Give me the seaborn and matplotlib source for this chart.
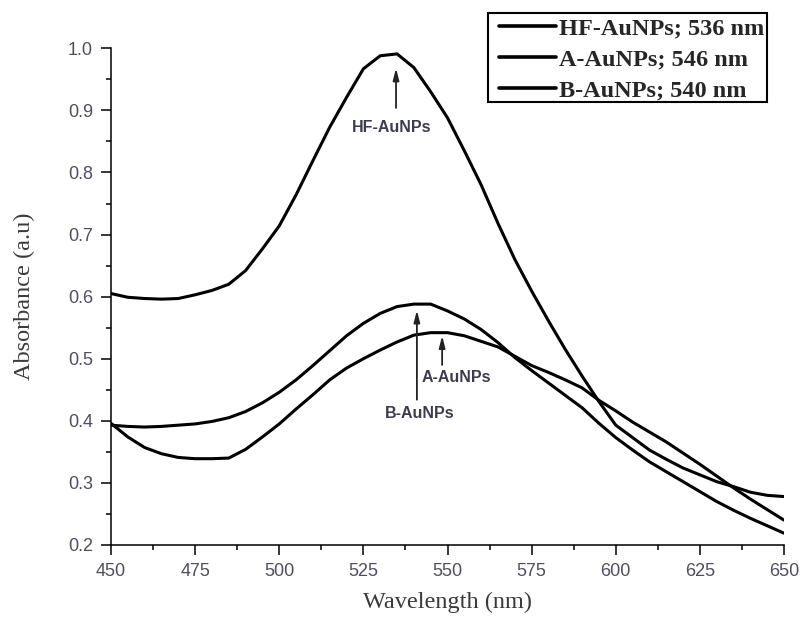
import numpy as np
import pandas as pd
import matplotlib
matplotlib.use("Agg")
import matplotlib.pyplot as plt
import seaborn as sns
from matplotlib.ticker import MultipleLocator
from matplotlib.patches import Rectangle

# ---------------- data ----------------
wavelength = [450, 455, 460, 465, 470, 475, 480, 485, 490, 495,
              500, 505, 510, 515, 520, 525, 530, 535, 540, 545,
              550, 555, 560, 565, 570, 575, 580, 585, 590, 595,
              600, 605, 610, 615, 620, 625, 630, 635, 640, 645, 650]

hf_aunps = [0.605, 0.599, 0.597, 0.596, 0.597, 0.603, 0.610, 0.620, 0.642, 0.677,
            0.714, 0.764, 0.819, 0.873, 0.921, 0.967, 0.988, 0.991, 0.969, 0.930,
            0.888, 0.835, 0.780, 0.718, 0.660, 0.609, 0.561, 0.515, 0.472, 0.431,
            0.393, 0.373, 0.353, 0.338, 0.324, 0.313, 0.302, 0.294, 0.285, 0.280, 0.278]

a_aunps = [0.396, 0.374, 0.357, 0.347, 0.341, 0.339, 0.339, 0.340, 0.354, 0.374,
           0.395, 0.419, 0.442, 0.466, 0.485, 0.500, 0.514, 0.527, 0.538, 0.542,
           0.542, 0.537, 0.528, 0.519, 0.504, 0.489, 0.478, 0.466, 0.453, 0.433,
           0.416, 0.398, 0.382, 0.366, 0.348, 0.330, 0.311, 0.292, 0.274, 0.257, 0.240]

b_aunps = [0.393, 0.391, 0.390, 0.391, 0.393, 0.395, 0.399, 0.405, 0.415, 0.429,
           0.446, 0.466, 0.489, 0.513, 0.537, 0.557, 0.573, 0.584, 0.588, 0.588,
           0.577, 0.564, 0.547, 0.526, 0.502, 0.481, 0.461, 0.441, 0.421, 0.396,
           0.373, 0.353, 0.334, 0.318, 0.302, 0.286, 0.270, 0.256, 0.243, 0.231, 0.219]

series_names = ["HF-AuNPs", "A-AuNPs", "B-AuNPs"]
legend_labels = ["HF-AuNPs; 536 nm", "A-AuNPs; 546 nm", "B-AuNPs; 540 nm"]

x_ticks = [450, 475, 500, 525, 550, 575, 600, 625, 650]
y_ticks = [0.2, 0.3, 0.4, 0.5, 0.6, 0.7, 0.8, 0.9, 1.0]

# annotation: label, arrow tip (x, y), arrow tail (x, y), text centre (x, y)
ann_labels = ["HF-AuNPs", "B-AuNPs", "A-AuNPs"]
ann_tips = [(534.7, 0.968), (540.9, 0.578), (548.4, 0.537)]
ann_tails = [(534.7, 0.904), (540.9, 0.434), (548.4, 0.490)]
ann_text = [(533.5, 0.872), (541.8, 0.412), (552.6, 0.469)]

# ---------------- build table ----------------
df = pd.DataFrame({
    "Wavelength": wavelength * 3,
    "Absorbance": hf_aunps + a_aunps + b_aunps,
    "Sample": [series_names[0]] * len(wavelength)
              + [series_names[1]] * len(wavelength)
              + [series_names[2]] * len(wavelength),
})

sns.set_style("ticks")
fig = plt.figure(figsize=(8.02, 6.17), dpi=100)
ax = fig.add_axes([0.1384, 0.1167, 0.8392, 0.805])

sns.lineplot(data=df, x="Wavelength", y="Absorbance", hue="Sample",
             hue_order=series_names, palette=["black"] * 3,
             estimator=None, linewidth=2.2, legend=False, ax=ax)
for ln in ax.lines:
    ln.set_solid_joinstyle("round")

ax.set_xlim(450, 650)
ax.set_ylim(0.2, 1.0)
ax.set_xticks(x_ticks)
ax.set_xticklabels([str(v) for v in x_ticks])
ax.set_yticks(y_ticks)
ax.set_yticklabels([f"{v:.1f}" for v in y_ticks])
ax.xaxis.set_minor_locator(MultipleLocator(12.5))
ax.yaxis.set_minor_locator(MultipleLocator(0.05))
ax.tick_params(which="major", direction="out", length=7, width=1.1,
               color="black", labelsize=13, labelcolor="#4f4f5f", pad=6)
ax.tick_params(which="minor", direction="out", length=3.6, width=1.1, color="black")
for lab in ax.get_xticklabels() + ax.get_yticklabels():
    lab.set_fontfamily("Liberation Sans")

for s in ["top", "right"]:
    ax.spines[s].set_visible(False)
for s in ["left", "bottom"]:
    ax.spines[s].set_linewidth(1.1)
    ax.spines[s].set_color("black")

ax.set_xlabel("Wavelength (nm)", fontfamily="Liberation Serif", fontsize=17.5, color="#3a3a3a")
ax.xaxis.set_label_coords(0.5, -0.094)
ax.set_ylabel("Absorbance (a.u)", fontfamily="Liberation Serif", fontsize=17.5, color="#3a3a3a")
ax.yaxis.set_label_coords(-0.113, 0.5)

for lab, tip, tail, tpos in zip(ann_labels, ann_tips, ann_tails, ann_text):
    ax.annotate("", xy=tip, xytext=tail,
                arrowprops=dict(arrowstyle="-|>,head_length=0.7,head_width=0.18",
                                color="#222222", lw=1.3, shrinkA=0, shrinkB=0,
                                mutation_scale=10))
    ax.text(tpos[0], tpos[1], lab, ha="center", va="center", fontsize=11.5,
            fontfamily="Liberation Sans", color="#3c3c4c", fontweight="bold")

# legend frame drawn separately (as in the reference, padded asymmetrically)
frame = Rectangle((488 / 802, 1 - 102 / 617), (767 - 488) / 802, (102 - 13) / 617,
                  transform=fig.transFigure, facecolor="white", edgecolor="black",
                  linewidth=1.5, zorder=4, clip_on=False)
ax.add_patch(frame)

leg = ax.legend(handles=ax.lines[:3], labels=legend_labels,
                loc="upper left", bbox_to_anchor=(499 / 802, 1 - 17 / 617),
                bbox_transform=fig.transFigure, borderaxespad=0,
                frameon=False,
                prop={"family": "Liberation Serif", "weight": "bold", "size": 17.5},
                handlelength=2.35, handletextpad=0.12, labelspacing=0.38,
                borderpad=0.0)
leg.set_zorder(6)
for h in leg.get_lines():
    h.set_linewidth(2.6)

fig.savefig("out.png", dpi=100)
